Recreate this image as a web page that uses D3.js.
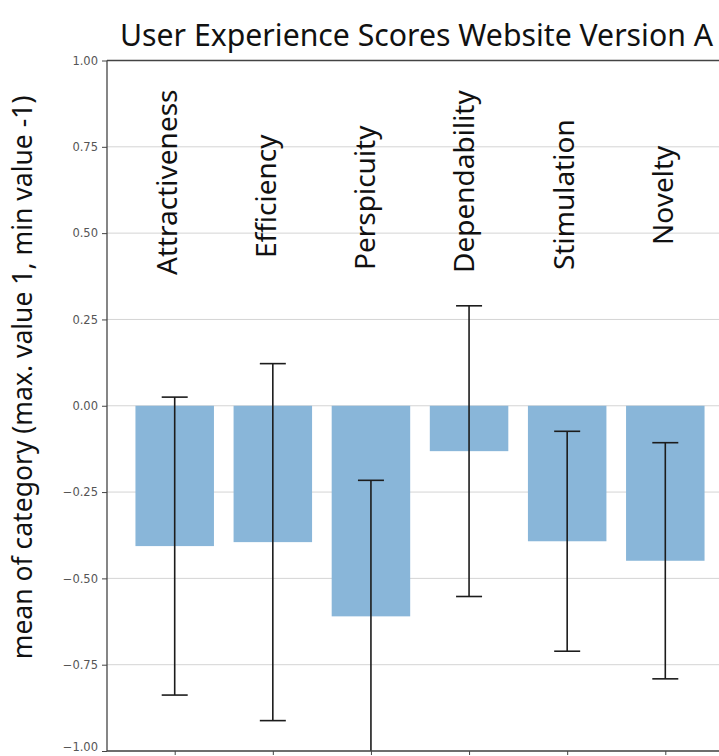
<!DOCTYPE html>
<html>
<head>
<meta charset="utf-8">
<script src="https://cdn.jsdelivr.net/npm/d3@7"></script>
<style>
  html, body { margin: 0; padding: 0; background: #fff; }
  svg { display: block; }
</style>
</head>
<body>
<div id="chart"></div>
<script>
// ---- data ----
const categories = ["Attractiveness", "Efficiency", "Perspicuity", "Dependability", "Stimulation", "Novelty"];
const means      = [-0.4065, -0.395, -0.61, -0.1315, -0.3925, -0.449];
const errors     = [0.4315, 0.517, 0.394, 0.421, 0.3185, 0.342];
const yTicks     = [1.00, 0.75, 0.50, 0.25, 0.00, -0.25, -0.50, -0.75, -1.00];
const titleText  = "User Experience Scores Website Version A";
const yLabelText = "mean of category (max. value 1, min value -1)";

// ---- layout ----
const W = 719, H = 756;
const plot = { left: 107, right: 733, top: 60.5, bottom: 751 };
const labelBottoms = [275, 258, 270, 273, 270, 245];

const svg = d3.select("#chart").append("svg")
  .attr("width", W).attr("height", H)
  .attr("viewBox", `0 0 ${W} ${H}`);

svg.append("rect").attr("width", W).attr("height", H).attr("fill", "#fff");

const x = d3.scaleLinear().domain([-0.69, categories.length - 1 + 0.69]).range([plot.left, plot.right]);
const y = d3.scaleLinear().domain([-1, 1]).range([plot.bottom, plot.top]);
const barW = x(0.8) - x(0);

svg.append("defs").append("clipPath").attr("id", "clip")
  .append("rect")
  .attr("x", plot.left).attr("y", plot.top)
  .attr("width", plot.right - plot.left).attr("height", plot.bottom - plot.top);

// gridlines
svg.append("g").selectAll("line").data(yTicks).join("line")
  .attr("x1", plot.left).attr("x2", plot.right)
  .attr("y1", d => y(d)).attr("y2", d => y(d))
  .attr("stroke", "#d4d4d4").attr("stroke-width", 1);

const g = svg.append("g").attr("clip-path", "url(#clip)");

// bars
g.selectAll("rect.bar").data(categories).join("rect")
  .attr("class", "bar")
  .attr("x", (d, i) => x(i) - barW / 2)
  .attr("width", barW)
  .attr("y", (d, i) => Math.min(y(0), y(means[i])))
  .attr("height", (d, i) => Math.abs(y(means[i]) - y(0)))
  .attr("fill", "#89b6d9");

// error bars
const capHalf = 13;
const eb = g.selectAll("g.err").data(categories).join("g").attr("class", "err")
  .attr("stroke", "#1c1c1c").attr("stroke-width", 1.6);
eb.append("line")
  .attr("x1", (d, i) => x(i)).attr("x2", (d, i) => x(i))
  .attr("y1", (d, i) => y(means[i] + errors[i]))
  .attr("y2", (d, i) => y(means[i] - errors[i]));
eb.append("line")
  .attr("x1", (d, i) => x(i) - capHalf).attr("x2", (d, i) => x(i) + capHalf)
  .attr("y1", (d, i) => y(means[i] + errors[i])).attr("y2", (d, i) => y(means[i] + errors[i]));
eb.append("line")
  .attr("x1", (d, i) => x(i) - capHalf).attr("x2", (d, i) => x(i) + capHalf)
  .attr("y1", (d, i) => y(means[i] - errors[i])).attr("y2", (d, i) => y(means[i] - errors[i]));

// category labels (rotated)
const labelX = d3.scaleLinear().domain([0, categories.length - 1]).range([176.7, 673]);
svg.append("g").selectAll("text").data(categories).join("text")
  .attr("transform", (d, i) => `translate(${labelX(i)},${labelBottoms[i]}) rotate(-90)`)
  .attr("text-anchor", "start")
  .attr("font-family", "'Noto Sans', 'Open Sans', sans-serif")
  .attr("font-size", 28)
  .attr("fill", "#111")
  .text(d => d);

// y axis
const yAxis = d3.axisLeft(y).tickValues(yTicks).tickFormat(d3.format(".2f")).tickSize(5).tickPadding(4);
const ya = svg.append("g").attr("transform", `translate(${plot.left},0)`).call(yAxis);
ya.select(".domain").remove();
ya.selectAll(".tick line").attr("stroke", "#444");
ya.selectAll(".tick text")
  .attr("font-family", "'DejaVu Sans', sans-serif")
  .attr("font-size", 11.5)
  .attr("fill", "#555")
  .attr("dy", d => d === -1 ? "-0.05em" : "0.32em");

// x axis ticks (no labels)
const xAxis = d3.axisBottom(x).tickValues(d3.range(categories.length)).tickFormat("").tickSize(4);
const xa = svg.append("g").attr("transform", `translate(0,${plot.bottom})`).call(xAxis);
xa.select(".domain").remove();
xa.selectAll(".tick line").attr("stroke", "#444");

// spines
const spine = svg.append("g").attr("stroke", "#444").attr("stroke-width", 1.3).attr("fill", "none");
spine.append("line").attr("x1", plot.left).attr("x2", plot.left).attr("y1", plot.top).attr("y2", plot.bottom);
spine.append("line").attr("x1", plot.left).attr("x2", plot.right).attr("y1", plot.top).attr("y2", plot.top);
spine.append("line").attr("x1", plot.left).attr("x2", plot.right).attr("y1", plot.bottom).attr("y2", plot.bottom);
spine.append("line").attr("x1", plot.right).attr("x2", plot.right).attr("y1", plot.top).attr("y2", plot.bottom);

// title
svg.append("text")
  .attr("x", 120).attr("y", 46)
  .attr("text-anchor", "start")
  .attr("font-family", "'Noto Sans', 'Open Sans', sans-serif")
  .attr("font-size", 30)
  .attr("textLength", 593).attr("lengthAdjust", "spacingAndGlyphs")
  .attr("fill", "#111")
  .text(titleText);

// y label
svg.append("text")
  .attr("transform", "translate(32,377.5) rotate(-90)")
  .attr("text-anchor", "middle")
  .attr("font-family", "'Noto Sans', 'Open Sans', sans-serif")
  .attr("font-size", 26.5)
  .attr("fill", "#111")
  .text(yLabelText);
</script>
</body>
</html>
